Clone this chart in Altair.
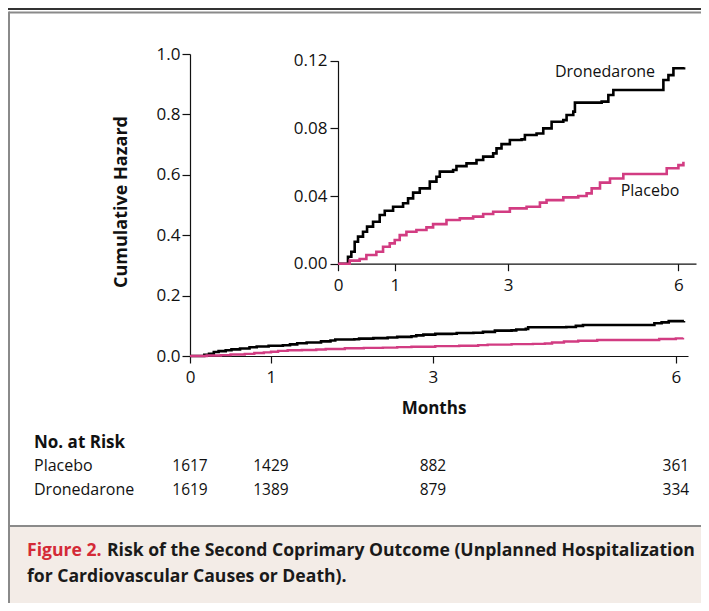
import altair as alt
import pandas as pd

# ---- data ----
drone_months = [0, 0.118, 0.176, 0.235, 0.294, 0.353, 0.441, 0.512, 0.618, 0.735, 0.824, 0.971,
                1.147, 1.235, 1.324, 1.441, 1.618, 1.735, 1.794, 2.029, 2.088, 2.265, 2.441,
                2.559, 2.735, 2.794, 2.882, 3.029, 3.235, 3.294, 3.5, 3.618, 3.765, 3.971,
                4.029, 4.147, 4.176, 4.647, 4.765, 4.853, 5.647, 5.735, 5.824, 5.912, 6.1]
drone_haz = [0, 0, 0.0041, 0.0071, 0.0130, 0.0160, 0.0189, 0.0219, 0.0248, 0.0288, 0.0313, 0.0337,
             0.0357, 0.0386, 0.0420, 0.0445, 0.0485, 0.0514, 0.0544, 0.0554, 0.0577, 0.0593, 0.0613,
             0.0633, 0.0652, 0.0682, 0.0707, 0.0731, 0.0735, 0.0761, 0.0770, 0.0800, 0.0839, 0.0849,
             0.0879, 0.0899, 0.0952, 0.0958, 0.0997, 0.1027, 0.1027, 0.1086, 0.1115, 0.1155, 0.1161]

placebo_months = [0, 0.206, 0.382, 0.5, 0.676, 0.794, 0.912, 1.0, 1.088, 1.206, 1.382, 1.559,
                  1.676, 1.912, 2.147, 2.382, 2.559, 2.735, 3.029, 3.324, 3.559, 3.676, 3.971,
                  4.235, 4.382, 4.471, 4.618, 4.794, 5.029, 5.618, 5.794, 6.0, 6.088]
placebo_haz = [0, 0.0018, 0.0028, 0.0051, 0.0071, 0.0100, 0.0120, 0.0140, 0.0169, 0.0189, 0.0199,
               0.0215, 0.0234, 0.0258, 0.0268, 0.0278, 0.0294, 0.0307, 0.0327, 0.0337, 0.0361,
               0.0376, 0.0392, 0.0400, 0.0416, 0.0445, 0.0479, 0.0504, 0.0530, 0.0530, 0.0564,
               0.0583, 0.0603]

risk_months = [0, 1, 3, 6]
risk_placebo = [1617, 1429, 882, 361]
risk_drone = [1619, 1389, 879, 334]

main_y_ticks = [0, 0.2, 0.4, 0.6, 0.8, 1.0]
inset_y_ticks = [0, 0.04, 0.08, 0.12]
x_ticks = [0, 1, 3, 6]

FONT = "Open Sans"
BLACK = "#000000"
PINK = "#D23C82"
RED = "#D42A37"
GRAY = "#8a8a8a"

df_d = pd.DataFrame({"month": drone_months, "haz": drone_haz})
df_p = pd.DataFrame({"month": placebo_months, "haz": placebo_haz})
df_risk = pd.DataFrame({"month": risk_months, "placebo": risk_placebo, "drone": risk_drone})
one = pd.DataFrame({"a": [0]})

W, H = 498, 302

# ---- main plot scales ----
mx = alt.Scale(domain=[0, 6.15], nice=False, zero=False)
my = alt.Scale(domain=[0, 1.0], nice=False)

axis_common = dict(
    domainColor="#111", tickColor="#111", domainWidth=1.2, tickWidth=1.2,
    labelFont=FONT, labelFontSize=17, labelColor="#111", grid=False, title=None,
    labelFlush=False, labelOverlap=False,
)

main_x_axis = alt.Axis(values=x_ticks, format="d", tickSize=7, labelPadding=6, **axis_common)
main_y_axis = alt.Axis(values=main_y_ticks, format=".1f", tickSize=8, labelPadding=2, **axis_common)

main_d = alt.Chart(df_d).mark_line(interpolate="step-after", color=BLACK, strokeWidth=2.6).encode(
    x=alt.X("month:Q", scale=mx, axis=main_x_axis),
    y=alt.Y("haz:Q", scale=my, axis=main_y_axis),
)
main_p = alt.Chart(df_p).mark_line(interpolate="step-after", color=PINK, strokeWidth=2.4).encode(
    x=alt.X("month:Q", scale=mx),
    y=alt.Y("haz:Q", scale=my),
)

# ---- frame decorations ----
def hrule(y, x1, x2, color, width):
    return alt.Chart(one).mark_rule(color=color, strokeWidth=width).encode(
        x=alt.value(x1), x2=alt.value(x2), y=alt.value(y))

def vrule(x, y1, y2, color, width):
    return alt.Chart(one).mark_rule(color=color, strokeWidth=width).encode(
        x=alt.value(x), y=alt.value(y1), y2=alt.value(y2))

caption_bg = alt.Chart(one).mark_rect(color="#F3ECE7").encode(
    x=alt.value(-181), x2=alt.value(520), y=alt.value(472), y2=alt.value(560))

top_line = hrule(-45, -182, 520, "#333333", 2)
box_top = hrule(-41.5, -181, 520, GRAY, 2)
box_left = vrule(-181, -42.5, 560, GRAY, 2)
separator = hrule(472, -181, 520, GRAY, 2)

def text(t, x, y, size=16, bold=False, color="#111", align="left", angle=0):
    kw = dict(text=t, font=FONT, fontSize=size, color=color, align=align, baseline="middle")
    if bold:
        kw["fontWeight"] = "bold"
    if angle:
        kw["angle"] = angle
    return alt.Chart(one).mark_text(**kw).encode(x=alt.value(x), y=alt.value(y))

y_title = text("Cumulative Hazard", -68, 148, size=18, bold=True, align="center", angle=270)
x_title = text("Months", 244, 355, size=17, bold=True, align="center")
risk_head = text("No. at Risk", -156, 389, size=17, bold=True)
risk_lab_p = text("Placebo", -156, 412, size=16)
risk_lab_d = text("Dronedarone", -156, 436, size=16)

risk_p = alt.Chart(df_risk).mark_text(font=FONT, fontSize=15.5, color="#111", baseline="middle").encode(
    x=alt.X("month:Q", scale=mx), y=alt.value(412), text="placebo:Q")
risk_d = alt.Chart(df_risk).mark_text(font=FONT, fontSize=15.5, color="#111", baseline="middle").encode(
    x=alt.X("month:Q", scale=mx), y=alt.value(436), text="drone:Q")

cap1a = text("Figure 2.", -163, 497, size=17.6, bold=True, color=RED)
cap1b = text("Risk of the Second Coprimary Outcome (Unplanned Hospitalization", -83, 497, size=17.6, bold=True, color="#1a1a1a")
cap2 = text("for Cardiovascular Causes or Death).", -163, 523, size=17.6, bold=True, color="#1a1a1a")

inset_lab_d = text("Dronedarone", 415, 18, size=16, align="center")
inset_lab_p = text("Placebo", 460, 137, size=16, align="center")

main_layer = alt.layer(
    caption_bg, top_line, box_top, box_left, separator,
    main_d, main_p, risk_p, risk_d,
    y_title, x_title, risk_head, risk_lab_p, risk_lab_d,
    cap1a, cap1b, cap2, inset_lab_d, inset_lab_p,
)

# ---- inset ----
ix = alt.Scale(domain=[0, 6.31], range=[148, 506], nice=False, zero=False)
iy = alt.Scale(domain=[0, 0.12], range=[209.7, 6.7], nice=False)
inset_x_axis = alt.Axis(values=x_ticks, format="d", tickSize=7, labelPadding=7, orient="bottom",
                        offset=-92.3, **axis_common)
inset_y_axis = alt.Axis(values=inset_y_ticks, format=".2f", tickSize=8, labelPadding=3, orient="left",
                        offset=-148, **axis_common)

inset_d = alt.Chart(df_d).mark_line(interpolate="step-after", color=BLACK, strokeWidth=2.6).encode(
    x=alt.X("month:Q", scale=ix, axis=inset_x_axis),
    y=alt.Y("haz:Q", scale=iy, axis=inset_y_axis),
)
inset_p = alt.Chart(df_p).mark_line(interpolate="step-after", color=PINK, strokeWidth=2.6).encode(
    x=alt.X("month:Q", scale=ix),
    y=alt.Y("haz:Q", scale=iy),
)
inset_layer = alt.layer(inset_d, inset_p)

chart = alt.layer(main_layer, inset_layer).resolve_scale(
    x="independent", y="independent"
).resolve_axis(
    x="independent", y="independent"
).properties(
    width=W, height=H,
    autosize=alt.AutoSizeParams(type="none"),
    padding={"left": 182, "top": 46, "right": 13, "bottom": 247},
    background="white",
).configure_view(stroke=None)

chart.save("out.html", embed_options={"renderer": "svg", "actions": False})
